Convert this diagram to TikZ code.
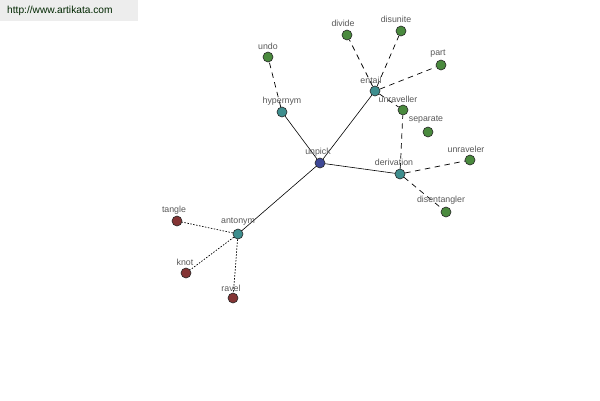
\documentclass[tikz,border=0pt]{standalone}
\usepackage{fontspec}
\setmainfont{Liberation Sans}
\definecolor{cblue}{RGB}{62,72,150}
\definecolor{cteal}{RGB}{62,142,142}
\definecolor{cgreen}{RGB}{74,138,62}
\definecolor{cred}{RGB}{132,52,52}
\begin{document}
\begin{tikzpicture}[x=1pt,y=-1pt,
  vnode/.style={circle,draw=black!85,line width=0.6pt,minimum size=10pt,inner sep=0pt},
  center/.style={vnode,fill=cblue},
  rel/.style={vnode,fill=cteal},
  syn/.style={vnode,fill=cgreen},
  ant/.style={vnode,fill=cred},
  lab/.style={font=\fontsize{8.8}{10}\selectfont,text=black!65,inner sep=0pt},
  solidl/.style={draw=black,line width=0.6pt},
  dashl/.style={draw=black,line width=0.7pt,dash pattern=on 5.5pt off 4.5pt},
  dotl/.style={draw=black,line width=0.7pt,dash pattern=on 1.5pt off 1.5pt}]
\useasboundingbox (0,0) rectangle (600,400);
\fill[white] (0,0) rectangle (600,400);
\fill[black!7] (0,0) rectangle (138,21);
\node[anchor=west,font=\fontsize{10.2}{11}\selectfont,text=black!75!green!60!black,inner sep=0pt] (url) at (7,11) {http://www.artikata.com};
% nodes
\node[center] (unpick) at (320,163) {};
\node[rel] (hypernym) at (282,112) {};
\node[syn] (undo) at (268,57) {};
\node[rel] (entail) at (375,91) {};
\node[syn] (divide) at (347,35) {};
\node[syn] (disunite) at (401,31) {};
\node[syn] (part) at (441,65) {};
\node[syn] (unraveller) at (403,110) {};
\node[syn] (separate) at (428,132) {};
\node[rel] (derivation) at (400,174) {};
\node[syn] (unraveler) at (470,160) {};
\node[syn] (disentangler) at (446,212) {};
\node[rel] (antonym) at (238,234) {};
\node[ant] (tangle) at (177,221) {};
\node[ant] (knot) at (186,273) {};
\node[ant] (ravel) at (233,298) {};
% edges
\path[solidl] (unpick) -- (hypernym);
\path[solidl] (unpick) -- (entail);
\path[solidl] (unpick) -- (derivation);
\path[solidl] (unpick) -- (antonym);
\path[dashl] (hypernym) -- (undo);
\path[dashl] (entail) -- (divide);
\path[dashl] (entail) -- (disunite);
\path[dashl] (entail) -- (part);
\path[dashl] (entail) -- (unraveller);
\path[dashl] (derivation) -- (unraveller);
\path[dashl] (derivation) -- (unraveler);
\path[dashl] (derivation) -- (disentangler);
\path[dotl] (antonym) -- (tangle);
\path[dotl] (antonym) -- (knot);
\path[dotl] (antonym) -- (ravel);
% labels
\node[lab] (lunpick) at (318,152) {unpick};
\node[lab] (lhypernym) at (282,101) {hypernym};
\node[lab] (lundo) at (268,46) {undo};
\node[lab] (lentail) at (371,80) {entail};
\node[lab] (ldivide) at (343,23) {divide};
\node[lab] (ldisunite) at (396,19) {disunite};
\node[lab] (lpart) at (438,54) {part};
\node[lab] (lunraveller) at (398,99) {unraveller};
\node[lab] (lseparate) at (426,120) {separate};
\node[lab] (lderivation) at (394,162) {derivation};
\node[lab] (lunraveler) at (466,149) {unraveler};
\node[lab] (ldisentangler) at (441,200) {disentangler};
\node[lab] (lantonym) at (238,222) {antonym};
\node[lab] (ltangle) at (174,210) {tangle};
\node[lab] (lknot) at (185,262) {knot};
\node[lab] (lravel) at (231,288) {ravel};
\end{tikzpicture}
\end{document}
